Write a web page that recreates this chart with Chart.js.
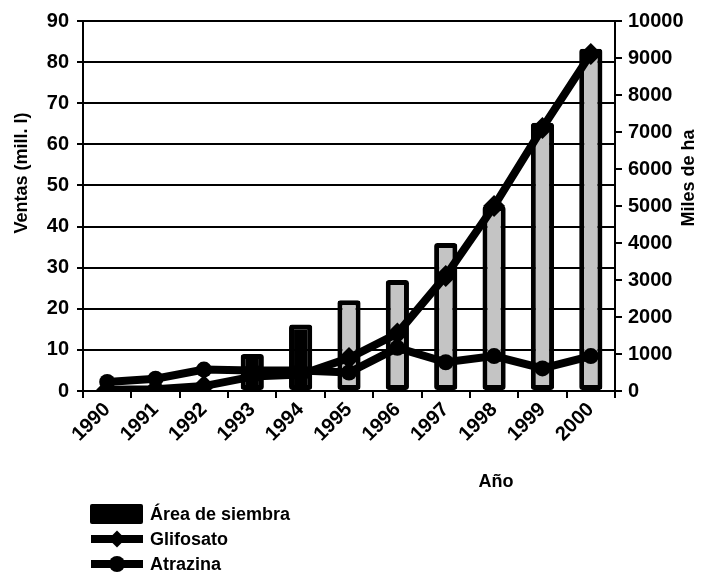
<!DOCTYPE html>
<html>
<head>
<meta charset="utf-8">
<script src="https://cdn.jsdelivr.net/npm/chart.js@4.4.1/dist/chart.umd.min.js"></script>
<style>
  html, body { margin: 0; padding: 0; background: #fff; }
  #wrap { position: relative; width: 716px; height: 574px; }
  #c { position: absolute; left: 0; top: 0; }
  #legend { position: absolute; left: 90px; top: 503px; font: bold 18px "Liberation Sans", Arial, sans-serif; color: #000; }
  .row { position: relative; height: 25px; }
  .row span { position: absolute; left: 60px; top: 0; line-height: 22px; white-space: nowrap; }
  .sw-rect { position: absolute; left: 0; top: 1px; width: 53px; height: 20px; background: #000; border-radius: 2px; }
  .sw-line { position: absolute; left: 1px; top: 7px; width: 52px; height: 8px; background: #000; }
  .sw-dia { position: absolute; left: 21px; top: 5px; width: 12px; height: 12px; background: #000; transform: rotate(45deg); }
  .sw-cir { position: absolute; left: 19px; top: 3px; width: 16px; height: 16px; background: #000; border-radius: 50%; }
</style>
</head>
<body>
<div id="wrap">
  <canvas id="c" width="716" height="574"></canvas>
  <div id="legend">
    <div class="row"><div class="sw-rect"></div><span>Área de siembra</span></div>
    <div class="row"><div class="sw-line"></div><div class="sw-dia"></div><span>Glifosato</span></div>
    <div class="row"><div class="sw-line"></div><div class="sw-cir"></div><span>Atrazina</span></div>
  </div>
</div>
<script>
const years = ['1990','1991','1992','1993','1994','1995','1996','1997','1998','1999','2000'];
const areaSiembra = [0, 0, 0, 1000, 1800, 2450, 3000, 4000, 5000, 7250, 9250];
const glifosato = [0.3, 0.4, 1.2, 3.5, 4, 8, 14, 28, 45, 64, 82];
const atrazina = [2.2, 3.0, 5.2, 5, 5, 4.5, 10.5, 7, 8.5, 5.5, 8.5];
const leftTicks = [0, 10, 20, 30, 40, 50, 60, 70, 80, 90];
const rightTicks = [0, 1000, 2000, 3000, 4000, 5000, 6000, 7000, 8000, 9000, 10000];

const FONT = "'Liberation Sans', Arial, sans-serif";
const tickFont = { family: FONT, size: 20, weight: 'bold' };

const titlesPlugin = {
  id: 'titles',
  afterDraw(chart) {
    const ctx = chart.ctx;
    ctx.save();
    ctx.fillStyle = '#000';
    ctx.font = 'bold 18px ' + FONT;
    ctx.textAlign = 'center';
    ctx.textBaseline = 'middle';
    ctx.save();
    ctx.translate(22, 173);
    ctx.rotate(-Math.PI / 2);
    ctx.fillText('Ventas (mill. l)', 0, 0);
    ctx.restore();
    ctx.save();
    ctx.translate(689, 178);
    ctx.rotate(-Math.PI / 2);
    ctx.fillText('Miles de ha', 0, 0);
    ctx.restore();
    ctx.fillText('Año', 496, 482);
    ctx.restore();
  }
};

new Chart(document.getElementById('c'), {
  type: 'bar',
  data: {
    labels: years,
    datasets: [
      {
        type: 'line', label: 'Glifosato', data: glifosato, yAxisID: 'y',
        borderColor: '#000', backgroundColor: '#000', borderWidth: 8,
        pointStyle: 'rectRot', pointRadius: 11, pointBorderWidth: 0, order: 1, tension: 0
      },
      {
        type: 'line', label: 'Atrazina', data: atrazina, yAxisID: 'y',
        borderColor: '#000', backgroundColor: '#000', borderWidth: 8,
        pointStyle: 'circle', pointRadius: 8, pointBorderWidth: 0, order: 2, tension: 0
      },
      {
        type: 'bar', label: 'Área de siembra', data: areaSiembra, yAxisID: 'y1',
        backgroundColor: (c) => (c.raw !== undefined && c.raw < 2000) ? '#000' : '#c4c4c4',
        borderColor: '#000', borderWidth: 5, borderSkipped: false, borderRadius: 3,
        barPercentage: 0.48, categoryPercentage: 1, order: 3
      }
    ]
  },
  options: {
    responsive: false,
    animation: false,
    devicePixelRatio: 1,
    layout: { padding: { top: 21, left: 0, right: 0, bottom: 0 } },
    plugins: { legend: { display: false }, tooltip: { enabled: false } },
    scales: {
      x: {
        offset: true,
        grid: { display: true, drawOnChartArea: false, drawTicks: true, tickLength: 7, color: '#000', lineWidth: 2, offset: true },
        border: { display: true, color: '#000', width: 2 },
        ticks: { color: '#000', font: tickFont, minRotation: 45, maxRotation: 45, padding: 0, autoSkip: false },
        afterFit(s) { s.height = 183; }
      },
      y: {
        position: 'left', min: 0, max: 90,
        afterBuildTicks(s) { s.ticks = leftTicks.map(v => ({ value: v })); },
        grid: { color: '#000', lineWidth: 2, tickLength: 6, drawTicks: true },
        border: { display: true, color: '#000', width: 2 },
        ticks: { color: '#000', font: tickFont, padding: 8, callback: (v) => String(v) },
        afterFit(s) { s.width = 83; }
      },
      y1: {
        position: 'right', min: 0, max: 10000,
        afterBuildTicks(s) { s.ticks = rightTicks.map(v => ({ value: v })); },
        grid: { drawOnChartArea: false, color: '#000', lineWidth: 2, tickLength: 7, drawTicks: true },
        border: { display: true, color: '#000', width: 2 },
        ticks: { color: '#000', font: tickFont, padding: 6, callback: (v) => String(v) },
        afterFit(s) { s.width = 101; }
      }
    }
  },
  plugins: [titlesPlugin]
});
</script>
</body>
</html>
